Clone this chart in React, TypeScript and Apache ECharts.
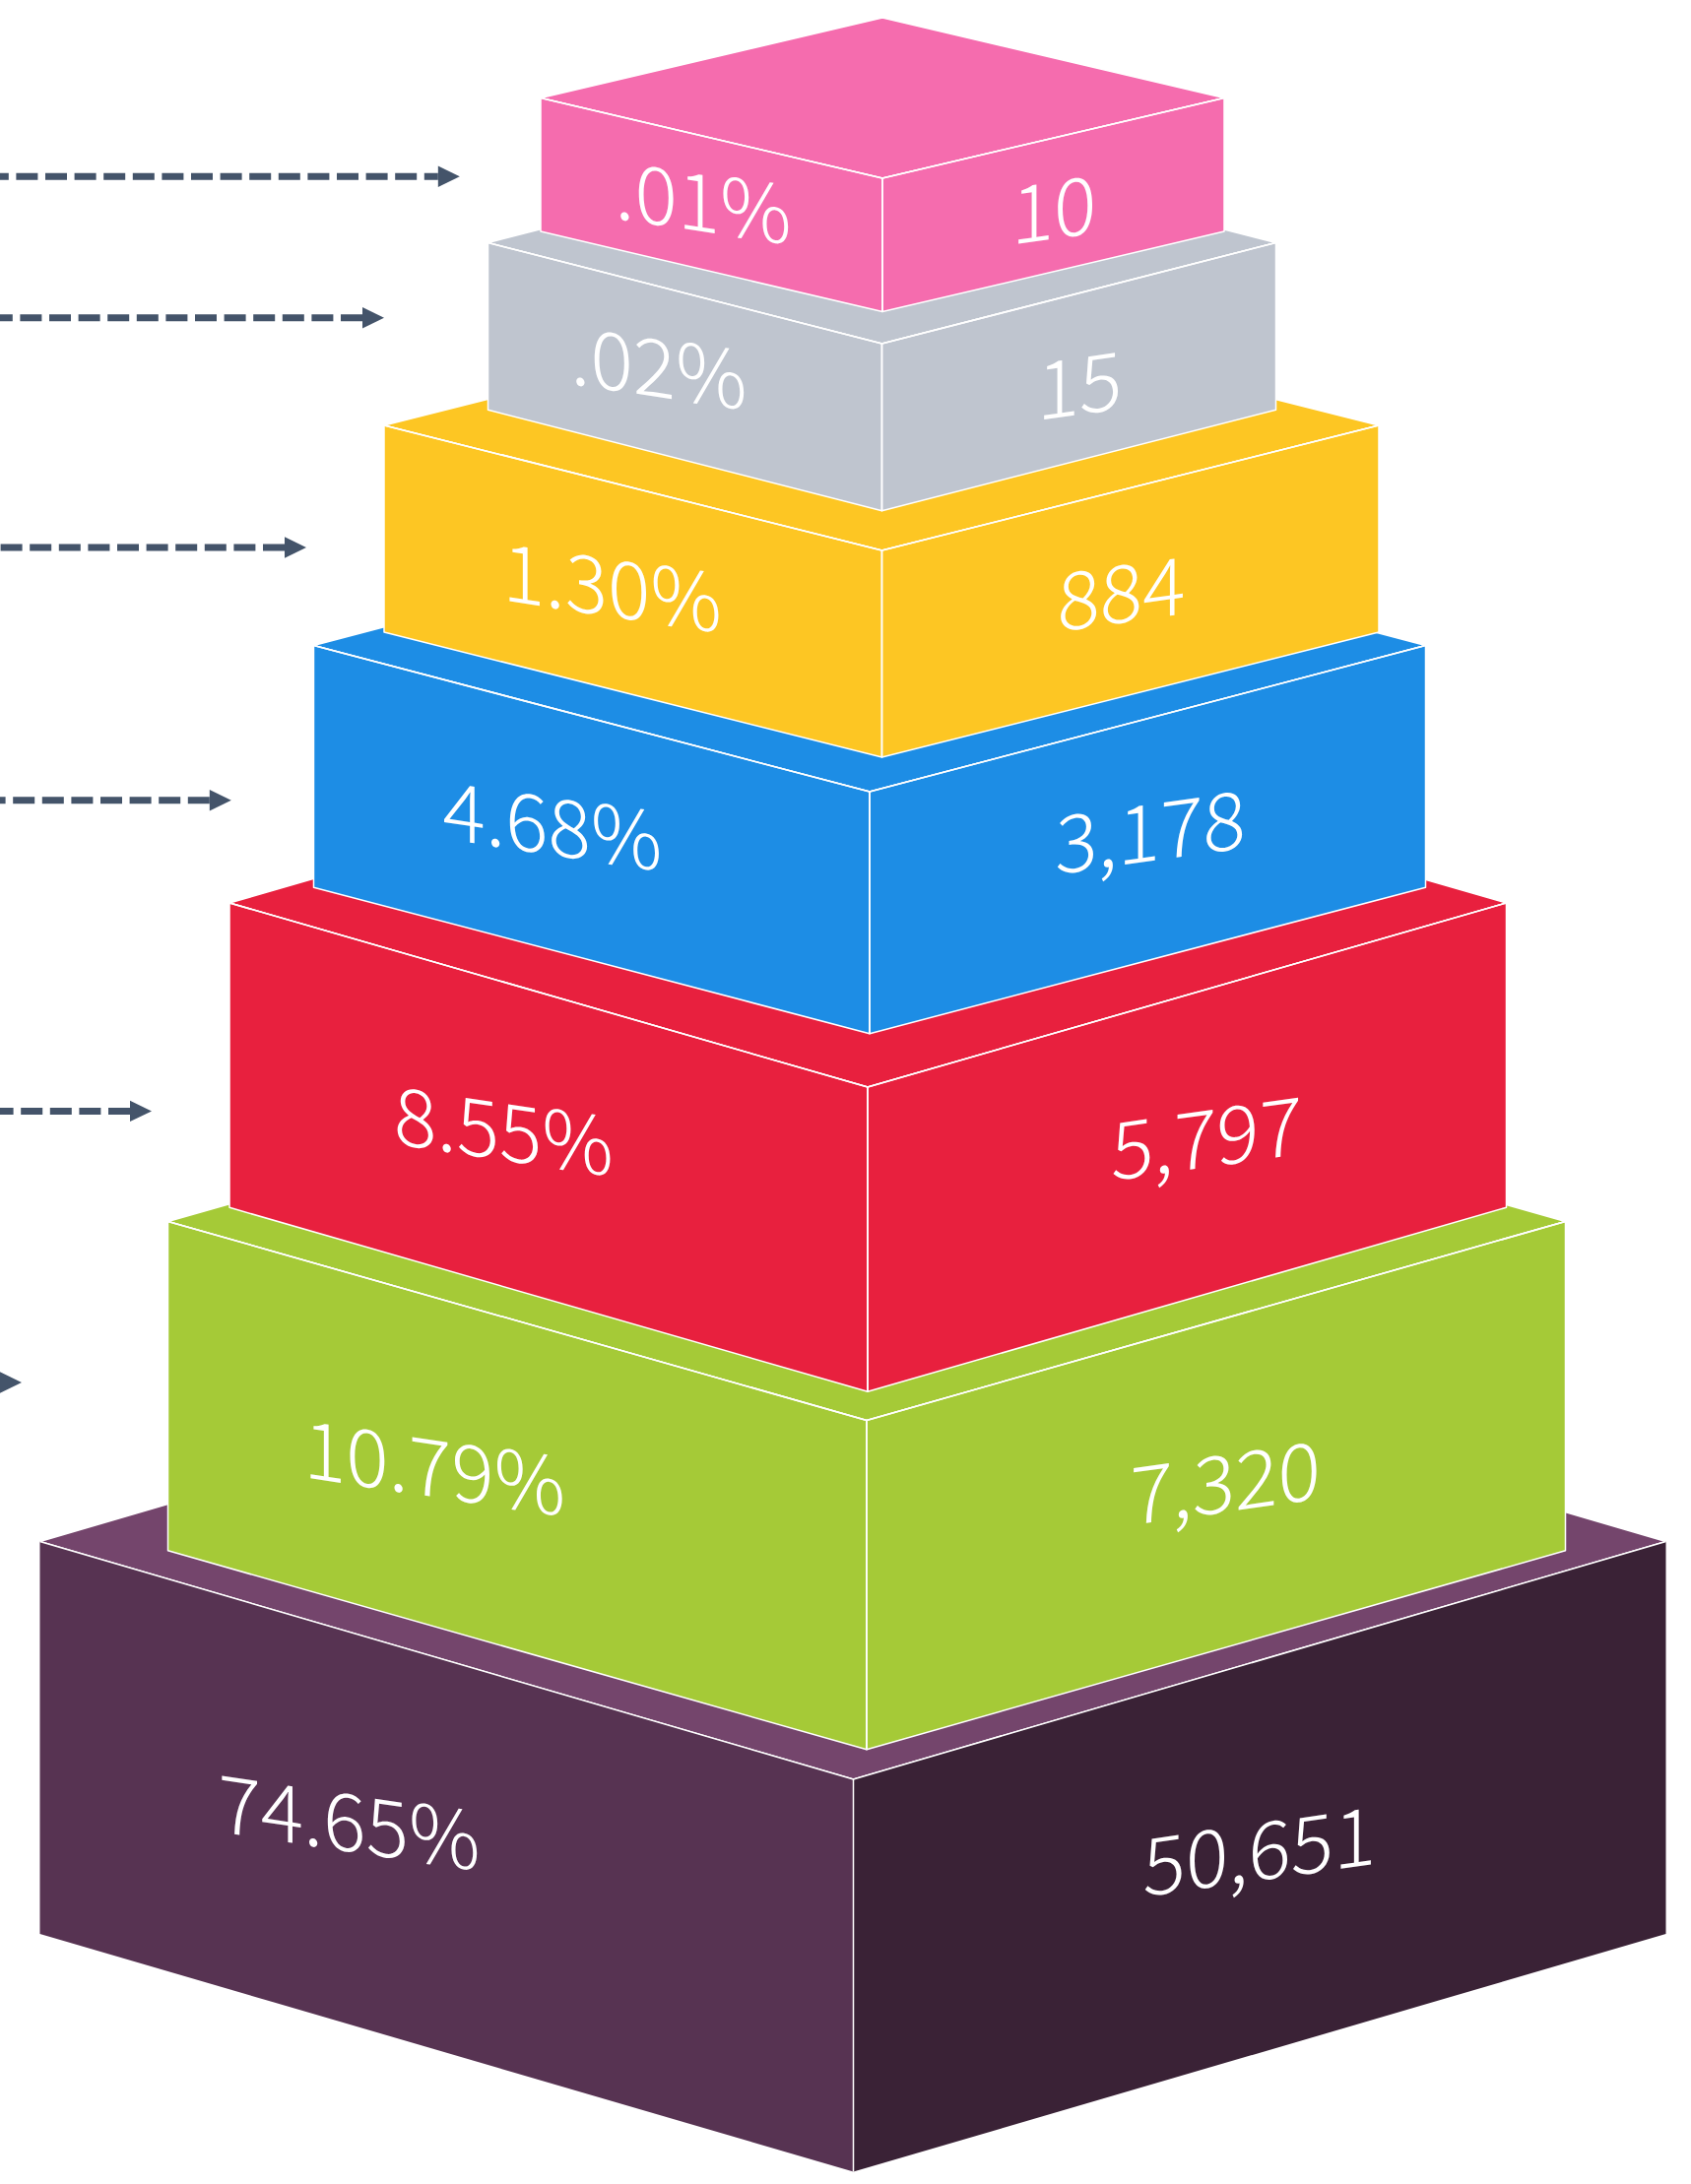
import React, { useEffect, useRef } from "react";
import * as echarts from "echarts";

// Tiers, listed from the base of the pyramid to its tip.
const percentLabels = ["74.65%", "10.79%", "8.55%", "4.68%", "1.30%", ".02%", ".01%"];
const countValues = [50651, 7320, 5797, 3178, 884, 15, 10];

// Geometry of each box, in axis units.
const edgeLeftX = [40.5, 170.5, 233, 318.5, 390, 495.5, 549];
const edgeRightX = [1691.5, 1589.5, 1529.5, 1447.5, 1400, 1295.5, 1243];
const frontX = [866.5, 880, 881, 883, 895.5, 895.5, 896];
const edgeY = [1565.5, 1240.5, 917, 655.5, 432, 246.5, 99.5];
const frontTopY = [1807, 1442.5, 1104, 804, 559, 349, 181];
const boxHeight = [398.5, 334.3, 309.3, 245.7, 210, 169.7, 135.6];

// Label anchors, in axis units.
const percentX = [354.5, 441, 511.5, 561, 621.5, 669, 714];
const percentY = [1845, 1485, 1143, 833, 591, 368, 200];
const countX = [1279, 1244, 1225, 1168, 1138.5, 1096, 1070];
const countY = [1874, 1500, 1150, 839, 597, 385.5, 207];

// Arrows, listed from the tip of the pyramid to its base.
const arrowY = [179.3, 322.8, 556, 812.8, 1128.4, 1404];
const arrowTipX = [466.8, 390, 311, 234.8, 154, 22];

const topColors = ["#74456C", "#A5CA37", "#E8203E", "#1D8DE5", "#FDC623", "#BFC5CF", "#F56CAE"];
const leftColors = ["#573352", "#A5CA37", "#E8203E", "#1D8DE5", "#FDC623", "#BFC5CF", "#F56CAE"];
const rightColors = ["#3A2236", "#A5CA37", "#E8203E", "#1D8DE5", "#FDC623", "#BFC5CF", "#F56CAE"];
const arrowColor = "#44546A";
const LABEL_FONT = "'Noto Sans CJK SC'";
const SKEW_LEFT = Math.atan(0.15);
const SKEW_RIGHT = Math.atan(0.14);

const pts = (api: any, list: number[][]) => list.map((p) => api.coord(p));

function renderBox(_: any, api: any) {
  const i = api.value(0);
  const lx = edgeLeftX[i];
  const rx = edgeRightX[i];
  const fx = frontX[i];
  const ey = edgeY[i];
  const fy = frontTopY[i];
  const h = boxHeight[i];
  const backY = ey - (fy - ey);
  const stroke = { stroke: "#fff", lineWidth: 1.5, lineJoin: "round" };
  const label = (text: string, p: number[]) => ({
    type: "text",
    x: p[0],
    y: p[1],
    style: {
      text,
      fill: "#fff",
      fontFamily: LABEL_FONT,
      fontWeight: 300,
      fontSize: 81,
      textAlign: "center",
      verticalAlign: "middle",
    },
  });
  const pc = label(percentLabels[i], api.coord([percentX[i], percentY[i]])) as any;
  pc.skewY = -SKEW_LEFT;
  const ct = label(countValues[i].toLocaleString("en-US"), api.coord([countX[i], countY[i]])) as any;
  ct.skewY = SKEW_RIGHT;
  return {
    type: "group",
    children: [
      {
        type: "polygon",
        shape: { points: pts(api, [[lx, ey], [fx, backY], [rx, ey], [fx, fy]]) },
        style: { fill: topColors[i], ...stroke },
      },
      {
        type: "polygon",
        shape: { points: pts(api, [[lx, ey], [fx, fy], [fx, fy + h], [lx, ey + h]]) },
        style: { fill: leftColors[i], ...stroke, stroke: i === 0 ? "rgba(255,255,255,0)" : "#fff" },
      },
      {
        type: "polygon",
        shape: { points: pts(api, [[fx, fy], [rx, ey], [rx, ey + h], [fx, fy + h]]) },
        style: { fill: rightColors[i], ...stroke, stroke: i === 0 ? "rgba(255,255,255,0)" : "#fff" },
      },
      {
        type: "polyline",
        shape: { points: pts(api, [[lx, ey], [fx, fy], [rx, ey]]) },
        style: { fill: "none", ...stroke },
      },
      {
        type: "line",
        shape: { x1: api.coord([fx, fy])[0], y1: api.coord([fx, fy])[1], x2: api.coord([fx, fy + h])[0], y2: api.coord([fx, fy + h])[1] },
        style: { ...stroke },
      },
      pc,
      ct,
    ],
  };
}

function renderArrow(_: any, api: any) {
  const i = api.value(0);
  const tip = api.coord([arrowTipX[i], arrowY[i]]);
  const base = tip[0] - 22;
  return {
    type: "group",
    children: [
      {
        type: "line",
        shape: { x1: base, y1: tip[1], x2: 0, y2: tip[1] },
        style: { stroke: arrowColor, lineWidth: 7, lineDash: [22, 7.6], lineDashOffset: i === 0 ? 8 : 0 },
      },
      {
        type: "polygon",
        shape: { points: [[tip[0], tip[1]], [base, tip[1] - 10.7], [base, tip[1] + 10.7]] },
        style: { fill: arrowColor },
      },
    ],
  };
}

export default function App() {
  const ref = useRef<HTMLDivElement>(null);
  useEffect(() => {
    const chart = echarts.init(ref.current!, undefined, { renderer: "svg" });
    chart.setOption({
      animation: false,
      backgroundColor: "#fff",
      grid: { left: 0, right: 0, top: 0, bottom: 0 },
      xAxis: { type: "value", min: 0, max: 1717, show: false },
      yAxis: { type: "value", min: 0, max: 2218, inverse: true, show: false },
      series: [
        {
          type: "custom",
          coordinateSystem: "cartesian2d",
          silent: true,
          clip: false,
          renderItem: renderArrow,
          data: arrowY.map((_, i) => [i, i]),
        },
        {
          type: "custom",
          coordinateSystem: "cartesian2d",
          silent: true,
          clip: false,
          renderItem: renderBox,
          data: countValues.map((_, i) => [i, i]),
        },
      ],
    });
    return () => chart.dispose();
  }, []);
  return <div ref={ref} style={{ position: "absolute", left: 0, top: 0, width: 1717, height: 2218 }} />;
}
